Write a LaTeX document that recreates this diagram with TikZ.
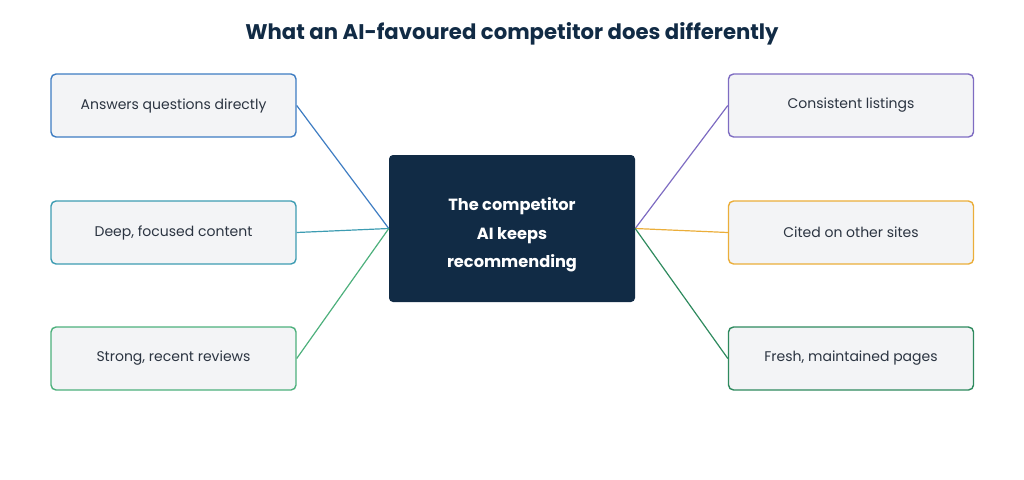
\documentclass[tikz,border=0pt]{standalone}
\usepackage{fontspec}
\setmainfont{Poppins}
\usepackage{xcolor}
\usepackage{tikz}
\usetikzlibrary{positioning}

\definecolor{navy}{HTML}{112B45}
\definecolor{boxfill}{HTML}{F3F4F6}
\definecolor{txtgray}{HTML}{2B3441}
\definecolor{cblue}{HTML}{3D7CC2}
\definecolor{cteal}{HTML}{3D9CB2}
\definecolor{cgreen}{HTML}{4DB07C}
\definecolor{cpurple}{HTML}{7E6CC2}
\definecolor{corange}{HTML}{EBAE3A}
\definecolor{cdkgreen}{HTML}{2E8A5E}

\begin{document}
\begin{tikzpicture}[x=1pt, y=-1pt,
    item/.style={draw=#1, line width=1.4pt, fill=boxfill, rounded corners=5pt,
        minimum width=245pt, minimum height=63pt, inner sep=0pt,
        text=txtgray, font=\fontsize{14}{16}\selectfont},
    hub/.style={fill=navy, rounded corners=4pt, minimum width=246pt, minimum height=147pt,
        text=white, align=center, font=\fontsize{16.2}{28.5}\selectfont\bfseries},
    link/.style={draw=#1, line width=1.2pt}]
    % canvas
    \useasboundingbox (0,0) rectangle (1024,479);

    % Title
    \node[text=navy, font=\fontsize{21.2}{25}\selectfont\bfseries] (title) at (512, 34)
        {What an AI-favoured competitor does differently};

    % Central box
    \node[hub] (center) at (512, 228.5) {\rule{0pt}{26pt}The competitor\\AI keeps\\recommending};

    % Left side
    \node[item=cblue] (answers) at (173.5, 105.5) {Answers questions directly};
    \node[item=cteal] (deep) at (173.5, 232.5) {Deep, focused content};
    \node[item=cgreen] (reviews) at (173.5, 358.5) {Strong, recent reviews};

    % Right side
    \node[item=cpurple] (listings) at (851, 105.5) {Consistent listings};
    \node[item=corange] (cited) at (851, 232.5) {Cited on other sites};
    \node[item=cdkgreen] (fresh) at (851, 358.5) {Fresh, maintained pages};

    % Connectors
    \foreach \n/\c in {answers/cblue, deep/cteal, reviews/cgreen}
        \draw[link=\c] (\n.east) -- (center.west);
    \foreach \n/\c in {listings/cpurple, cited/corange, fresh/cdkgreen}
        \draw[link=\c] (center.east) -- (\n.west);
\end{tikzpicture}
\end{document}
